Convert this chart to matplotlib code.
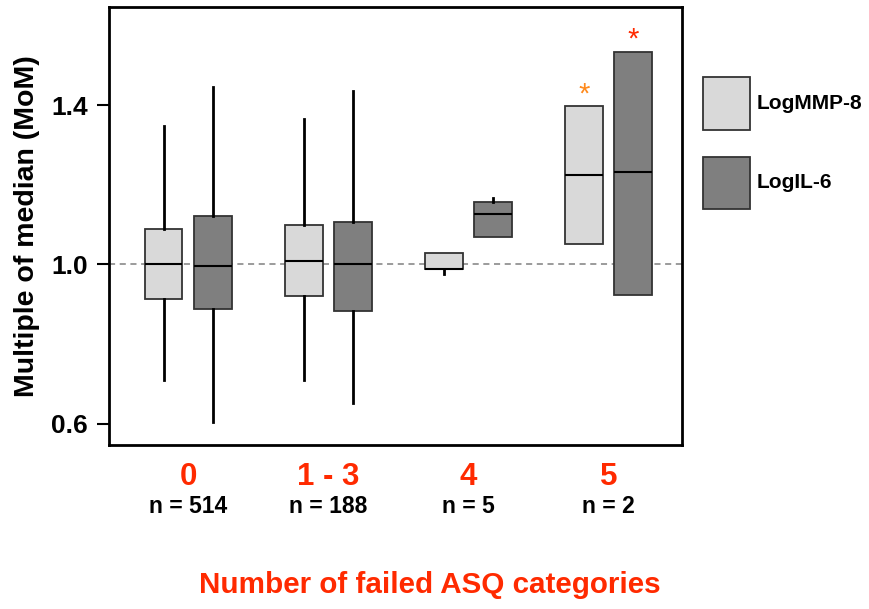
import matplotlib.pyplot as plt
from matplotlib.patches import Patch

plt.rcParams['font.family'] = ['Liberation Sans', 'DejaVu Sans']

# groepen (aantal gefaalde ASQ categorieen)
groepen = ["0", "1 - 3", "4", "5"]
n_labels = ["n = 514", "n = 188", "n = 5", "n = 2"]

mmp8_whislo = [0.711, 0.711, 0.976, 1.051]
mmp8_q1 = [0.914, 0.922, 0.988, 1.051]
mmp8_med = [1.000, 1.008, 0.988, 1.225]
mmp8_q3 = [1.088, 1.100, 1.030, 1.397]
mmp8_whishi = [1.347, 1.365, 1.030, 1.397]

il6_whislo = [0.605, 0.653, 1.070, 0.923]
il6_q1 = [0.889, 0.884, 1.070, 0.923]
il6_med = [0.995, 1.000, 1.126, 1.231]
il6_q3 = [1.121, 1.106, 1.156, 1.534]
il6_whishi = [1.445, 1.435, 1.166, 1.534]

licht = "#d9d9d9"
donker = "#7f7f7f"
rood = "#ff2a00"
oranje = "#ff8a1c"


def maak_stats(lo, q1, med, q3, hi):
    return [dict(whislo=a, q1=b, med=c, q3=d, whishi=e, fliers=[])
            for a, b, c, d, e in zip(lo, q1, med, q3, hi)]


fig = plt.figure(figsize=(8.69, 6.09), dpi=100)
ax = fig.add_axes([0.1249, 0.2693, 0.660, 0.7192])

posities = [1, 2, 3, 4]
offset = 0.175
breedte = 0.27

ax.axhline(1.0, color="#808080", linestyle=(0, (4, 3)), linewidth=1.1, zorder=1)

for stats, kleur, dx in [
    (maak_stats(mmp8_whislo, mmp8_q1, mmp8_med, mmp8_q3, mmp8_whishi), licht, -offset),
    (maak_stats(il6_whislo, il6_q1, il6_med, il6_q3, il6_whishi), donker, offset),
]:
    ax.bxp(stats, positions=[p + dx for p in posities], widths=breedte,
           patch_artist=True, showcaps=False, manage_ticks=False,
           boxprops=dict(facecolor=kleur, edgecolor="#333333", linewidth=1.3),
           medianprops=dict(color="black", linewidth=1.5),
           whiskerprops=dict(color="black", linewidth=2.0),
           zorder=3)

# sterretjes bij groep 5
ax.text(4 - offset, mmp8_q3[3] + 0.03, "*", color=oranje, fontsize=21,
        ha="center", va="center")
ax.text(4 + offset, il6_q3[3] + 0.03, "*", color=rood, fontsize=21,
        ha="center", va="center")

ax.set_xlim(0.433, 4.522)
ax.set_ylim(0.547, 1.646)
ax.set_yticks([0.6, 1.0, 1.4])
ax.set_yticklabels(["0.6", "1.0", "1.4"], fontsize=19, fontweight="bold")
ax.tick_params(axis="y", length=9, width=1.5, pad=6)

ax.set_xticks(posities)
ax.set_xticklabels(groepen, fontsize=22.5, fontweight="bold", color=rood)
ax.tick_params(axis="x", length=0, pad=12)

for p, lab in zip(posities, n_labels):
    ax.annotate(lab, xy=(p, 0), xycoords=ax.get_xaxis_transform(),
                xytext=(0, -44), textcoords="offset points",
                ha="center", va="center", fontsize=16.5, fontweight="bold")

for s in ax.spines.values():
    s.set_linewidth(2)

ax.set_ylabel("Multiple of median (MoM)", fontsize=20.5, fontweight="bold", labelpad=8)
fig.text(0.495, 0.040, "Number of failed ASQ categories", color=rood,
         fontsize=21.3, fontweight="bold", ha="center", va="center")

handles = [Patch(facecolor=licht, edgecolor="#333333", linewidth=1.3),
           Patch(facecolor=donker, edgecolor="#333333", linewidth=1.3)]
fig.legend(handles, ["LogMMP-8", "LogIL-6"], loc="upper left",
           bbox_to_anchor=(0.797, 0.890), frameon=False, borderpad=0,
           prop=dict(size=15, weight="bold"),
           handlelength=2.26, handleheight=3.47, labelspacing=1.3, handletextpad=0.3)

fig.savefig("out.png", dpi=100)
